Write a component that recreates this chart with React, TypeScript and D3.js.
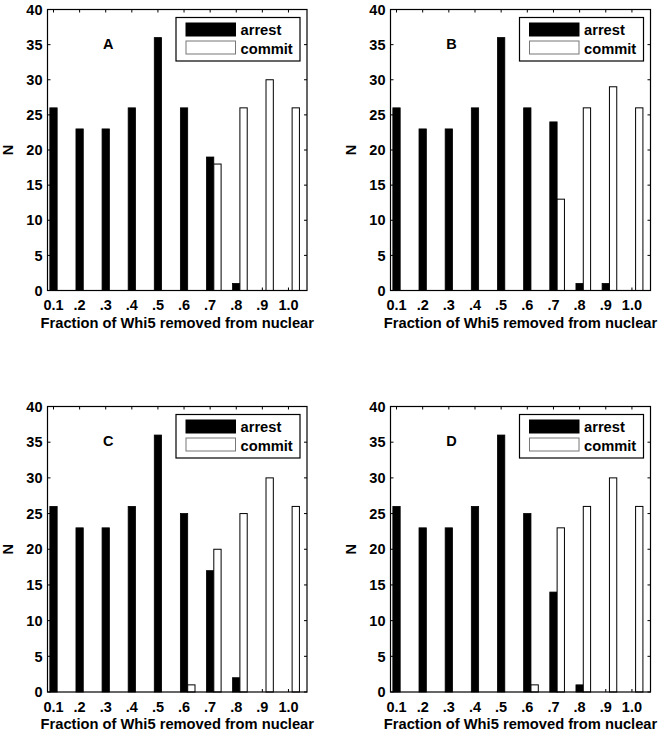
import React from 'react'
import { useEffect, useRef } from 'react'
import * as d3 from 'd3'

// bin positions (fraction removed) and their tick labels
const bins = [0.1, 0.2, 0.3, 0.4, 0.5, 0.6, 0.7, 0.8, 0.9, 1.0]
const binLabels = ['0.1', '.2', '.3', '.4', '.5', '.6', '.7', '.8', '.9', '1.0']
const yTicks = [0, 5, 10, 15, 20, 25, 30, 35, 40]

const arrestA = [26, 23, 23, 26, 36, 26, 19, 1, 0, 0]
const commitA = [0, 0, 0, 0, 0, 0, 18, 26, 30, 26]
const arrestB = [26, 23, 23, 26, 36, 26, 24, 1, 1, 0]
const commitB = [0, 0, 0, 0, 0, 0, 13, 26, 29, 26]
const arrestC = [26, 23, 23, 26, 36, 25, 17, 2, 0, 0]
const commitC = [0, 0, 0, 0, 0, 1, 20, 25, 30, 26]
const arrestD = [26, 23, 23, 26, 36, 25, 14, 1, 0, 0]
const commitD = [0, 0, 0, 0, 0, 1, 23, 26, 30, 26]

const panelNames = ['A', 'B', 'C', 'D']
const seriesNames = ['arrest', 'commit']
const xTitle = 'Fraction of Whi5 removed from nuclear'
const yTitle = 'N'

// axes boxes [left, top, right, bottom]
const frames = [
  [47.5, 9.5, 307, 290.5],
  [390.5, 9.5, 650.5, 290.5],
  [47.5, 406.5, 307, 692],
  [390.5, 406.5, 650.5, 692],
]

const FONT = '"Liberation Sans", Arial, sans-serif'

export default function App() {
  const ref = useRef<SVGSVGElement>(null)

  useEffect(() => {
    const svg = d3.select(ref.current)
    svg.selectAll('*').remove()

    const data = [
      [arrestA, commitA],
      [arrestB, commitB],
      [arrestC, commitC],
      [arrestD, commitD],
    ]

    panelNames.forEach((name, i) => {
      const [l, t, r, b] = frames[i]
      const x = d3.scaleLinear().domain([0.077, 1.071]).range([l, r])
      const y = d3.scaleLinear().domain([0, 40]).range([b, t])
      const bw = x(0.128) - x(0.1)
      const [arrest, commit] = data[i]

      const g = svg.append('g')

      // bars
      g.selectAll('rect.arrest')
        .data(bins)
        .join('rect')
        .attr('class', 'arrest')
        .attr('x', (d) => x(d) - bw / 2)
        .attr('width', bw)
        .attr('y', (d, j) => y(arrest[j]))
        .attr('height', (d, j) => b - y(arrest[j]))
        .attr('fill', '#000')
        .attr('stroke', '#000')
        .attr('stroke-width', 0.8)

      g.selectAll('rect.commit')
        .data(bins)
        .join('rect')
        .attr('class', 'commit')
        .attr('x', (d) => x(d) + bw / 2)
        .attr('width', bw)
        .attr('y', (d, j) => y(commit[j]))
        .attr('height', (d, j) => b - y(commit[j]))
        .attr('fill', '#fff')
        .attr('stroke', '#000')
        .attr('stroke-width', 1)

      // frame
      g.append('rect')
        .attr('x', l).attr('y', t)
        .attr('width', r - l).attr('height', b - t)
        .attr('fill', 'none')
        .attr('stroke', '#000')
        .attr('stroke-width', 1.2)

      // inward ticks
      const tk = 3
      g.selectAll('line.yt')
        .data(yTicks)
        .join('line')
        .attr('class', 'yt')
        .attr('x1', l).attr('x2', l + tk)
        .attr('y1', (d) => y(d)).attr('y2', (d) => y(d))
        .attr('stroke', '#000')
      g.selectAll('line.yt2')
        .data(yTicks)
        .join('line')
        .attr('class', 'yt2')
        .attr('x1', r).attr('x2', r - tk)
        .attr('y1', (d) => y(d)).attr('y2', (d) => y(d))
        .attr('stroke', '#000')
      g.selectAll('line.xt')
        .data(bins)
        .join('line')
        .attr('class', 'xt')
        .attr('x1', (d) => x(d)).attr('x2', (d) => x(d))
        .attr('y1', t).attr('y2', t + tk)
        .attr('stroke', '#000')
      g.selectAll('line.xb')
        .data(bins)
        .join('line')
        .attr('class', 'xb')
        .attr('x1', (d) => x(d)).attr('x2', (d) => x(d))
        .attr('y1', b).attr('y2', b - tk)
        .attr('stroke', '#000')

      // tick labels
      g.selectAll('text.yl')
        .data(yTicks)
        .join('text')
        .attr('class', 'yl')
        .attr('x', l - 5)
        .attr('y', (d) => y(d))
        .attr('dy', '0.36em')
        .attr('text-anchor', 'end')
        .attr('font-family', FONT)
        .attr('font-weight', 'bold')
        .attr('font-size', 14.5)
        .text((d) => d)
      g.selectAll('text.xl')
        .data(bins)
        .join('text')
        .attr('class', 'xl')
        .attr('x', (d) => x(d))
        .attr('y', b + 19.5)
        .attr('text-anchor', 'middle')
        .attr('font-family', FONT)
        .attr('font-weight', 'bold')
        .attr('font-size', 14.5)
        .text((d, j) => binLabels[j])

      // axis titles
      g.append('text')
        .attr('x', (l + r) / 2)
        .attr('y', b + 37)
        .attr('text-anchor', 'middle')
        .attr('font-family', FONT)
        .attr('font-weight', 'bold')
        .attr('font-size', 14.7)
        .text(xTitle)
      g.append('text')
        .attr('transform', `translate(${l - 35},${(t + b) / 2}) rotate(-90)`)
        .attr('text-anchor', 'middle')
        .attr('font-family', FONT)
        .attr('font-weight', 'bold')
        .attr('font-size', 14.5)
        .text(yTitle)

      // panel letter
      g.append('text')
        .attr('x', x(0.31))
        .attr('y', y(34.4))
        .attr('text-anchor', 'middle')
        .attr('font-family', FONT)
        .attr('font-weight', 'bold')
        .attr('font-size', 14.5)
        .text(name)

      // legend
      const lx = r - 131
      const ly = t + 8
      const leg = g.append('g').attr('transform', `translate(${lx},${ly})`)
      leg.append('rect')
        .attr('width', 124).attr('height', 43.5)
        .attr('fill', '#fff')
        .attr('stroke', '#000')
        .attr('stroke-width', 1.2)
      seriesNames.forEach((s, k) => {
        leg.append('rect')
          .attr('x', 10).attr('y', 5.5 + k * 18)
          .attr('width', 49.5).attr('height', 13)
          .attr('fill', k === 0 ? '#000' : '#fff')
          .attr('stroke', k === 0 ? '#000' : '#777')
          .attr('stroke-width', 1)
        leg.append('text')
          .attr('x', 64.5).attr('y', 17.5 + k * 18.5)
          .attr('font-family', FONT)
          .attr('font-weight', 'bold')
          .attr('font-size', 14.7)
          .text(s)
      })
    })
  }, [])

  return (
    <svg
      ref={ref}
      width={666}
      height={736}
      style={{ position: 'absolute', left: 0, top: 0, background: '#fff' }}
    />
  )
}
